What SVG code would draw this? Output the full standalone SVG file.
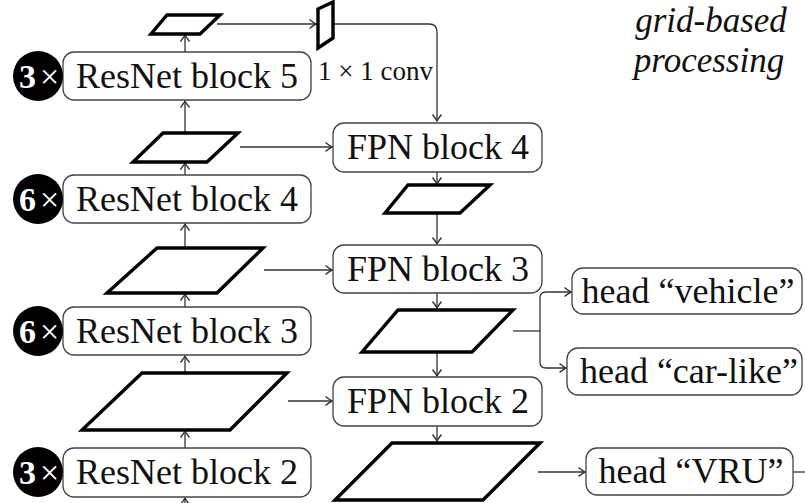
<svg xmlns="http://www.w3.org/2000/svg" width="805" height="503" viewBox="0 0 805 503">
<style>
.box{fill:#fff;stroke:#444;stroke-width:1.3}
.par{fill:#fff;stroke:#000;stroke-width:3.4;stroke-linejoin:miter}
.t{font-family:"Liberation Serif","Times New Roman",serif;font-size:36px;fill:#111;text-anchor:middle}
.it{font-family:"Liberation Serif","Times New Roman",serif;font-size:35px;font-style:italic;fill:#111;text-anchor:middle}
.bt{font-family:"Liberation Serif","Times New Roman",serif;font-size:34px;fill:#fff}
.con{fill:none;stroke:#333;stroke-width:1.3}
</style>
<defs>
<marker id="ah" markerUnits="userSpaceOnUse" markerWidth="12" markerHeight="12" refX="0" refY="0" viewBox="-8 -6 10 12" orient="auto">
<path d="M-6.5,-4.5 Q-2,-1 0,0 Q-2,1 -6.5,4.5" fill="none" stroke="#333" stroke-width="1.4"/>
</marker>
</defs>

<g id="connectors" class="con">
<path d="M185,52 V35" marker-end="url(#ah)"/>
<path d="M185,133 V101" marker-end="url(#ah)"/>
<path d="M185,175 V163" marker-end="url(#ah)"/>
<path d="M185,248 V224" marker-end="url(#ah)"/>
<path d="M185,307 V294" marker-end="url(#ah)"/>
<path d="M185,373 V356" marker-end="url(#ah)"/>
<path d="M185,448 V431" marker-end="url(#ah)"/>
<path d="M185,503 V498" marker-end="url(#ah)"/>
<path d="M217,24 H316" marker-end="url(#ah)"/>
<path d="M334,24 H429 Q437,24 437,32 V121" marker-end="url(#ah)"/>
<path d="M240,147 H332" marker-end="url(#ah)"/>
<path d="M264,270 H332" marker-end="url(#ah)"/>
<path d="M288,401 H332" marker-end="url(#ah)"/>
<path d="M437,172 V184" marker-end="url(#ah)"/>
<path d="M437,213 V244" marker-end="url(#ah)"/>
<path d="M437,293 V308" marker-end="url(#ah)"/>
<path d="M437,352 V376" marker-end="url(#ah)"/>
<path d="M437,426 V441" marker-end="url(#ah)"/>
<path d="M513,331 H540"/>
<path d="M540,331 V298 Q540,292 546,292 H571" marker-end="url(#ah)"/>
<path d="M540,331 V362 Q540,368 546,368 H566" marker-end="url(#ah)"/>
<path d="M538,472 H585" marker-end="url(#ah)"/>
<path d="M793,472 H805"/>
</g>

<g id="title">
<text x="711" y="32" class="it">grid-based</text>
<text x="709" y="72" class="it">processing</text>
</g>

<g id="feat5"><polygon class="par" points="167,15 220,15 200,34 151,34"/></g>
<g id="conv">
<polygon class="par" points="318,9 333,2 333,38 318,48"/>
<text x="318" y="80" style="font-family:'Liberation Serif','Times New Roman',serif;font-size:27px;fill:#111">1 × 1 conv</text>
</g>

<g id="resnet5">
<rect class="box" x="63" y="52" width="248" height="48" rx="11"/>
<text x="187" y="88" class="t">ResNet block 5</text>
<circle cx="38" cy="76" r="25" fill="#000"/>
<text x="19" y="88" class="bt" font-weight="bold">3</text>
<text x="40" y="88" class="bt">×</text>
</g>

<g id="feat4"><polygon class="par" points="163,133 238,133 207,162 133,162"/></g>

<g id="resnet4">
<rect class="box" x="63" y="175" width="248" height="48" rx="11"/>
<text x="187" y="211" class="t">ResNet block 4</text>
<circle cx="38" cy="199" r="25" fill="#000"/>
<text x="19" y="211" class="bt" font-weight="bold">6</text>
<text x="40" y="211" class="bt">×</text>
</g>

<g id="feat3"><polygon class="par" points="157,248 263,248 217,293 107,293"/></g>

<g id="resnet3">
<rect class="box" x="63" y="307" width="248" height="48" rx="11"/>
<text x="187" y="343" class="t">ResNet block 3</text>
<circle cx="38" cy="331" r="25" fill="#000"/>
<text x="19" y="343" class="bt" font-weight="bold">6</text>
<text x="40" y="343" class="bt">×</text>
</g>

<g id="feat2"><polygon class="par" points="142,373 287,373 230,430 82,430"/></g>

<g id="resnet2">
<rect class="box" x="63" y="448" width="248" height="49" rx="11"/>
<text x="187" y="484" class="t">ResNet block 2</text>
<circle cx="38" cy="472" r="25" fill="#000"/>
<text x="19" y="484" class="bt" font-weight="bold">3</text>
<text x="40" y="484" class="bt">×</text>
</g>

<g id="fpn4">
<rect class="box" x="333" y="123" width="209" height="49" rx="11"/>
<text x="438" y="159" class="t">FPN block 4</text>
</g>
<g id="pfeat4"><polygon class="par" points="408,185 490,185 460,213 385,213"/></g>

<g id="fpn3">
<rect class="box" x="333" y="245" width="209" height="48" rx="11"/>
<text x="438" y="281" class="t">FPN block 3</text>
</g>
<g id="pfeat3"><polygon class="par" points="398,310 513,310 472,352 362,352"/></g>

<g id="fpn2">
<rect class="box" x="333" y="377" width="209" height="49" rx="11"/>
<text x="438" y="413" class="t">FPN block 2</text>
</g>
<g id="pfeat2"><polygon class="par" points="392,443 540,443 483,500 335,500"/></g>

<g id="head-vehicle">
<rect class="box" x="572" y="268" width="230" height="46" rx="11"/>
<text x="688" y="303" class="t">head “vehicle”</text>
</g>
<g id="head-carlike">
<rect class="box" x="567" y="348" width="235" height="47" rx="11"/>
<text x="689" y="383" class="t">head “car-like”</text>
</g>
<g id="head-vru">
<rect class="box" x="586" y="448" width="207" height="47" rx="11"/>
<text x="691" y="483" class="t">head “VRU”</text>
</g>
</svg>
